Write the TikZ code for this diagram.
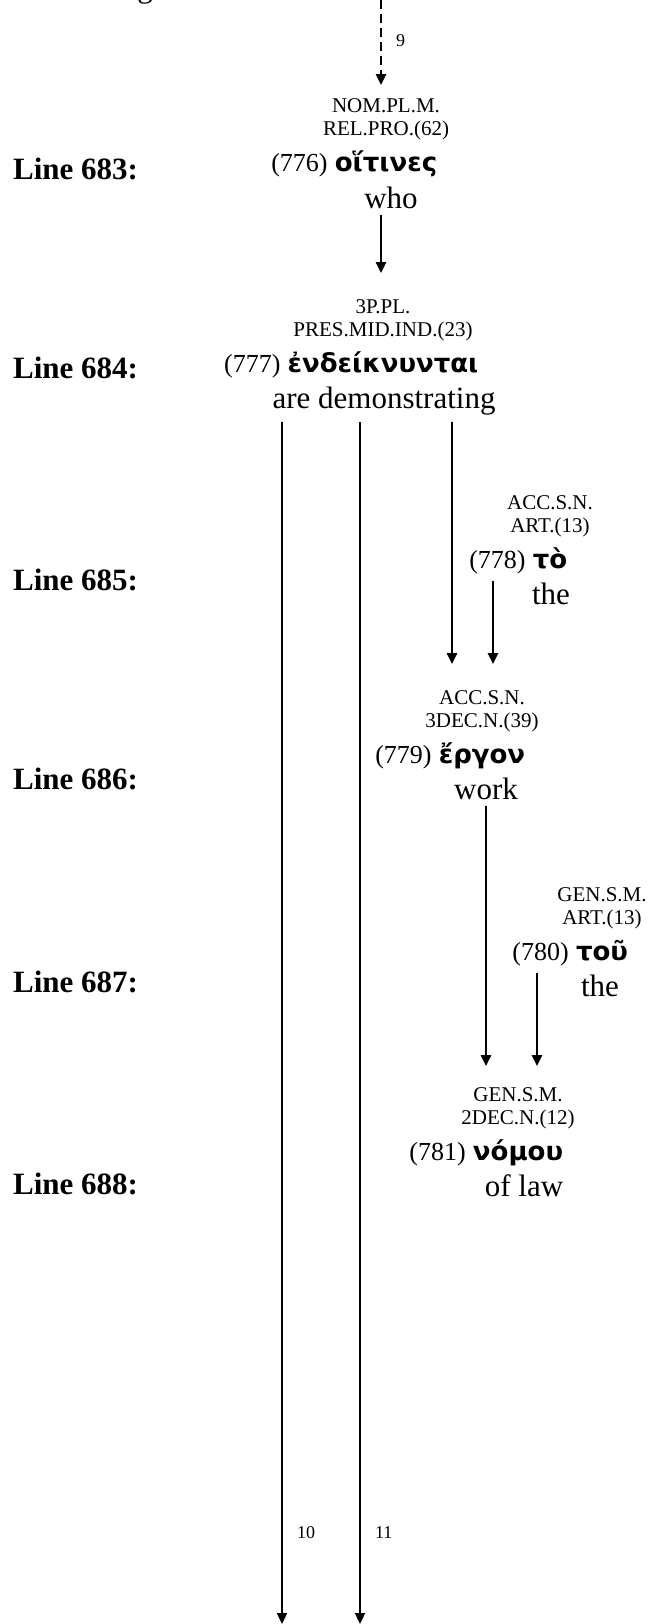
\documentclass[tikz,border=0pt]{standalone}
\usepackage{fontspec}
\setmainfont{Liberation Serif}
\newfontfamily\grkfont{DejaVu Sans}
\usetikzlibrary{arrows.meta,positioning}
\tikzset{
  tag/.style={font={\fontsize{21}{24}\selectfont}, inner sep=0pt, outer ysep=14pt, anchor=base},
  greek/.style={font={\grkfont\bfseries\fontsize{26}{30}\selectfont}, inner sep=0pt, anchor=base},
  wnum/.style={font={\fontsize{26}{30}\selectfont}, inner sep=0pt, outer sep=7pt, anchor=base east},
  gloss/.style={font={\fontsize{31}{36}\selectfont}, inner sep=0pt, outer sep=7pt, anchor=base},
  lineno/.style={font={\bfseries\fontsize{31}{36}\selectfont}, inner sep=0pt, anchor=base west},
  edgelbl/.style={font={\fontsize{18}{20}\selectfont}, inner sep=0pt, anchor=west, xshift=14pt},
  link/.style={line width=2.2pt, -{Triangle[width=10pt,length=11pt]}},
}
\begin{document}
\begin{tikzpicture}[x=1pt,y=-1pt]
\useasboundingbox (0,0) rectangle (653,1624);
% end of the text cut off above
\node[gloss] (cut) at (145,-2) {g};
% name/column/baseline/tag 1/tag 2/greek/gloss/gloss shift
\foreach \n/\x/\b/\ta/\tb/\w/\g/\s in {
  776/386/172/NOM.PL.M./REL.PRO.(62)/οἵτινες/who/5,
  777/383/372/3P.PL./PRES.MID.IND.(23)/ἐνδείκνυνται/are demonstrating/1,
  778/550/568/ACC.S.N./ART.(13)/τὸ/the/1,
  779/482/763/ACC.S.N./3DEC.N.(39)/ἔργον/work/4,
  780/602/960/GEN.S.M./ART.(13)/τοῦ/the/-2,
  781/518/1160/GEN.S.M./2DEC.N.(12)/νόμου/of law/6}
{
  \node[tag] (a\n) at (\x,\b-59) {\ta};
  \node[tag] (t\n) at (\x,\b-36) {\tb};
  \node[greek] (w\n) at (\x,\b) {\w};
  \node[wnum] (n\n) at (w\n.base west) {(\n)};
  \node[gloss] (g\n) at (\x+\s,\b+36) {\g};
}
\foreach \l/\b in {683/179,684/378,685/590,686/789,687/992,688/1194}
  \node[lineno] (l\l) at (13,\b) {Line \l:};
\path
  (381,0) coordinate (A)
  (452,0) coordinate (B)
  (493,0) coordinate (C)
  (486,0) coordinate (D)
  (537,0) coordinate (E)
  (282,1624) coordinate (F)
  (360,1624) coordinate (G)
  ;
\draw[link, dash pattern=on 9pt off 5pt] (A) -- node[edgelbl, pos=.48] {9} (A |- a776.north);
\draw[link, shorten >=12pt] (A |- g776.south) -- (A |- a777.north);
\draw[link, shorten >=12pt] (B |- g777.south) -- (B |- a779.north);
\draw[link, shorten >=12pt] (C |- n778.south) -- (C |- a779.north);
\draw[link, shorten >=7pt] (D |- g779.south) -- (D |- a781.north);
\draw[link, shorten >=7pt] (E |- n780.south) -- (E |- a781.north);
\draw[link] (F |- g777.south) -- node[edgelbl, pos=.924] {10} (F);
\draw[link] (G |- g777.south) -- node[edgelbl, pos=.924] {11} (G);
\end{tikzpicture}
\end{document}
